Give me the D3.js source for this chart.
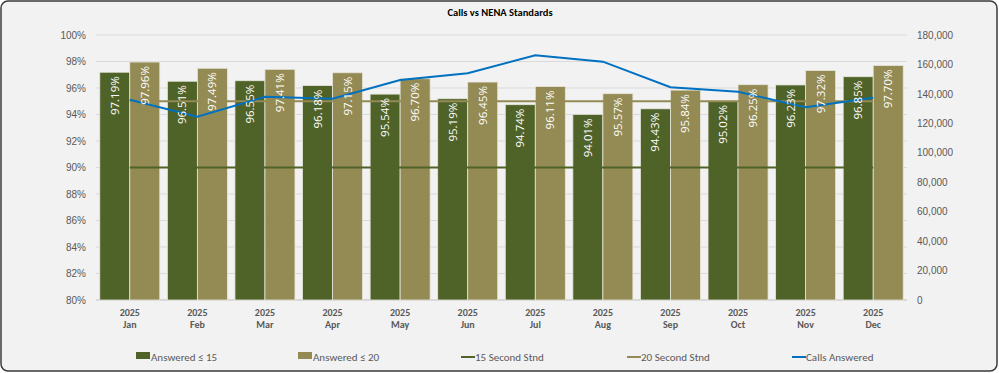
<!DOCTYPE html>
<html><head><meta charset="utf-8">
<script src="https://cdn.jsdelivr.net/npm/d3@7"></script>
<style>
html,body{margin:0;padding:0;background:#fff;}
svg{display:block;font-family:Carlito,Calibri,Lato,"Open Sans",sans-serif;}
</style></head>
<body><svg id="chart" width="999" height="373"></svg>
<script>
const years = ["2025","2025","2025","2025","2025","2025","2025","2025","2025","2025","2025","2025"];
const months = ["Jan","Feb","Mar","Apr","May","Jun","Jul","Aug","Sep","Oct","Nov","Dec"];
const answered15 = [97.19,96.51,96.55,96.18,95.54,95.19,94.74,94.01,94.43,95.02,96.23,96.85];
const answered20 = [97.96,97.49,97.41,97.15,96.70,96.45,96.11,95.57,95.84,96.25,97.32,97.70];
const std15 = [90,90,90,90,90,90,90,90,90,90,90,90];
const std20 = [95,95,95,95,95,95,95,95,95,95,95,95];
const callsAnswered = [136000,124500,138000,136700,149400,154000,166200,161900,144500,141500,130900,137400];
const leftTicks = [80,82,84,86,88,90,92,94,96,98,100];
const rightTicks = [0,20000,40000,60000,80000,100000,120000,140000,160000,180000];
const legendItems = ["Answered ≤ 15","Answered ≤ 20","15 Second Stnd","20 Second Stnd","Calls Answered"];

const C15 = "#4F6228", C20 = "#948A54", CBLUE = "#0070C0", TXT = "#595959";
const svg = d3.select("#chart");

svg.append("rect").attr("x",1).attr("y",1).attr("width",996).attr("height",370)
  .attr("rx",7).attr("fill","#F2F2F2").attr("stroke","#3a3a3a").attr("stroke-width",1.5);

svg.append("text").attr("x",500).attr("y",16).attr("text-anchor","middle")
  .attr("font-size",10.5).attr("font-weight","bold").attr("fill","#000").text("Calls vs NENA Standards");

const x = d3.scaleBand().domain(months).range([96,907]).paddingInner(0.112).paddingOuter(0.056);
const yL = d3.scaleLinear().domain([80,100]).range([300,35]);
const yR = d3.scaleLinear().domain([0,180000]).range([300,35]);
const bw = x.bandwidth()/2;

// gridlines
svg.append("g").selectAll("line").data(leftTicks).join("line")
  .attr("x1",96).attr("x2",907).attr("y1",d=>yL(d)).attr("y2",d=>yL(d))
  .attr("stroke",d=>d===80?"#BFBFBF":"#D9D9D9").attr("stroke-width",1);

// left axis
const axL = svg.append("g").attr("transform","translate(96,0)")
  .call(d3.axisLeft(yL).tickValues(leftTicks).tickSize(0).tickPadding(10).tickFormat(d=>d+"%"));
axL.select(".domain").remove();
axL.selectAll("text").attr("font-size",10).attr("fill",TXT).attr("font-family",null);

// right axis
const axR = svg.append("g").attr("transform","translate(907,0)")
  .call(d3.axisRight(yR).tickValues(rightTicks).tickSize(0).tickPadding(10).tickFormat(d3.format(",")));
axR.select(".domain").remove();
axR.selectAll("text").attr("font-size",10).attr("fill",TXT).attr("font-family",null);

// bars
const g = svg.append("g");
g.selectAll("rect.b15").data(months).join("rect").attr("class","b15")
  .attr("x",m=>x(m)).attr("width",bw)
  .attr("y",(m,i)=>yL(answered15[i])).attr("height",(m,i)=>yL(80)-yL(answered15[i]))
  .attr("fill",C15).attr("stroke","#E6E6DC").attr("stroke-width",0.8);
g.selectAll("rect.b20").data(months).join("rect").attr("class","b20")
  .attr("x",m=>x(m)+bw).attr("width",bw)
  .attr("y",(m,i)=>yL(answered20[i])).attr("height",(m,i)=>yL(80)-yL(answered20[i]))
  .attr("fill",C20).attr("stroke","#E6E6DC").attr("stroke-width",0.8);

// lines
const cx = m => x(m)+x.bandwidth()/2;
const lineL = arr => d3.line().x((d,i)=>cx(months[i])).y(d=>yL(d))(arr);
svg.append("path").attr("d",lineL(std15)).attr("fill","none").attr("stroke",C15).attr("stroke-width",2);
svg.append("path").attr("d",lineL(std20)).attr("fill","none").attr("stroke",C20).attr("stroke-width",2);
svg.append("path").attr("d",d3.line().x((d,i)=>cx(months[i])).y(d=>yR(d))(callsAnswered))
  .attr("fill","none").attr("stroke",CBLUE).attr("stroke-width",2);

// data labels
function labels(arr, off){
  svg.append("g").selectAll("text").data(months).join("text")
    .attr("transform",(m,i)=>`translate(${x(m)+off+bw/2+4},${yL(arr[i])+4}) rotate(-90)`)
    .attr("text-anchor","end").attr("font-size",11.5).attr("fill","#fff")
    .attr("font-family","'Open Sans',sans-serif")
    .text((m,i)=>arr[i].toFixed(2)+"%");
}
labels(answered15,0);
labels(answered20,bw);

// x labels
const xl = svg.append("g");
xl.selectAll("text.yr").data(months).join("text").attr("class","yr")
  .attr("x",cx).attr("y",316).attr("text-anchor","middle").attr("font-size",10).attr("font-weight","bold")
  .attr("fill",TXT).text((m,i)=>years[i]);
xl.selectAll("text.mo").data(months).join("text").attr("class","mo")
  .attr("x",cx).attr("y",328).attr("text-anchor","middle").attr("font-size",10).attr("font-weight","bold")
  .attr("fill",TXT).text(m=>m);

// legend
const legX = [136,298,460,626,791];
const lg = svg.append("g");
legendItems.forEach((t,i)=>{
  const gx = legX[i];
  if(i<2){
    lg.append("rect").attr("x",gx).attr("y",352).attr("width",14).attr("height",7).attr("fill",i===0?C15:C20);
  } else {
    lg.append("line").attr("x1",gx+1).attr("x2",gx+15).attr("y1",357).attr("y2",357)
      .attr("stroke",[C15,C20,CBLUE][i-2]).attr("stroke-width",2);
  }
  lg.append("text").attr("x",gx+15).attr("y",361).attr("font-size",11).attr("fill",TXT).text(t);
});
</script></body></html>
